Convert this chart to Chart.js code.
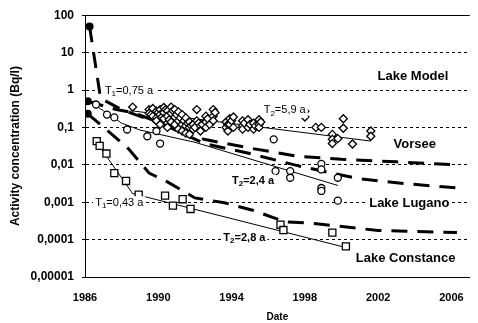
<!DOCTYPE html>
<html>
<head>
<meta charset="utf-8">
<script src="https://cdn.jsdelivr.net/npm/chart.js@4.4.0/dist/chart.umd.min.js"></script>
<style>
  html, body { margin: 0; padding: 0; background: #fff; }
</style>
</head>
<body>
<canvas id="chart" width="478" height="323"></canvas>
<script>
const xTicks = [1986, 1990, 1994, 1998, 2002, 2006];
const yTicks = [0.00001, 0.0001, 0.001, 0.01, 0.1, 1, 10, 100];
const yTickLabels = ['0,00001', '0,0001', '0,001', '0,01', '0,1', '1', '10', '100'];

// measured activity, Vorsee (diamonds)
const vorseeYears = [1988.6, 1989.5, 1989.5, 1989.6, 1989.7, 1989.7, 1989.9, 1989.9, 1989.9, 1990.0,
  1990.1, 1990.1, 1990.1, 1990.2, 1990.3, 1990.3, 1990.3, 1990.4, 1990.5, 1990.5, 1990.5, 1990.6,
  1990.7, 1990.7, 1990.7, 1990.8, 1990.9, 1990.9, 1990.9, 1991.0, 1991.1, 1991.1, 1991.1, 1991.2,
  1991.3, 1991.3, 1991.3, 1991.4, 1991.5, 1991.5, 1991.5, 1991.6, 1991.7, 1991.7, 1991.7, 1991.8,
  1991.9, 1991.9, 1992.0, 1992.1, 1992.1, 1992.2, 1992.3, 1992.3, 1992.4, 1992.6, 1992.6, 1992.6,
  1992.7, 1992.8, 1993.0, 1993.0, 1993.0, 1993.1,
  1993.7, 1993.7, 1993.8, 1993.8, 1993.9, 1993.9, 1994.0, 1994.1, 1994.1, 1994.6, 1994.6, 1994.6,
  1994.7, 1994.9, 1994.9, 1995.0, 1995.2, 1995.2, 1995.3, 1995.5, 1995.5, 1995.5, 1995.6,
  1998.0, 1998.0, 1998.6, 1998.9, 1999.5, 1999.5, 1999.5, 1999.8, 2000.1, 2000.1, 2000.6, 2001.6, 2001.6];
const vorseeValues = [0.35, 0.30, 0.24, 0.22, 0.20, 0.32, 0.27, 0.18, 0.15, 0.25,
  0.30, 0.22, 0.12, 0.19, 0.34, 0.25, 0.17, 0.30, 0.28, 0.20, 0.10, 0.16,
  0.35, 0.24, 0.14, 0.28, 0.30, 0.19, 0.12, 0.22, 0.26, 0.15, 0.09, 0.18,
  0.22, 0.12, 0.08, 0.15, 0.18, 0.11, 0.07, 0.13, 0.14, 0.10, 0.065, 0.11,
  0.12, 0.09, 0.10, 0.30, 0.15, 0.13, 0.11, 0.08, 0.12, 0.20, 0.14, 0.10,
  0.17, 0.12, 0.30, 0.20, 0.15, 0.25,
  0.14, 0.10, 0.08, 0.12, 0.17, 0.12, 0.15, 0.19, 0.10, 0.15, 0.11, 0.09,
  0.13, 0.16, 0.10, 0.12, 0.13, 0.09, 0.11, 0.16, 0.12, 0.10, 0.14,
  0.27, 0.19, 0.10, 0.10, 0.065, 0.048, 0.037, 0.05, 0.17, 0.095, 0.036, 0.08, 0.058];

// Lake Lugano (circles)
const luganoYears = [1986.6, 1987.2, 1987.6, 1988.3, 1989.4, 1989.9, 1990.1, 1996.3, 1996.4, 1997.2, 1997.2,
  1998.9, 1998.9, 1998.9, 1998.9, 1999.8, 1999.8];
const luganoValues = [0.41, 0.22, 0.185, 0.088, 0.058, 0.08, 0.037, 0.048, 0.0068, 0.0068, 0.0045,
  0.0106, 0.0075, 0.0024, 0.002, 0.0045, 0.0011];

// Lake Constance (squares)
const constanceYears = [1986.64, 1986.8, 1987.17, 1987.6, 1988.24, 1988.93, 1990.37, 1990.8, 1991.33, 1991.76,
  1996.67, 1996.83, 1999.5, 2000.24];
const constanceValues = [0.043, 0.032, 0.020, 0.006, 0.0037, 0.0016, 0.0015, 0.00081, 0.0012, 0.00066,
  0.00025, 0.00018, 0.000154, 0.000066];

// exponential fits (thin lines)
const vorseeFitYears = [1988.5, 2001.6];
const vorseeFitValues = [0.28, 0.043];
const luganoFitYears = [1986.2, 1987, 1988, 1989, 1992, 1999.8];
const luganoFitValues = [0.5, 0.28, 0.13, 0.085, 0.04, 0.0028];
const constanceFitYears = [1986.5, 1988.6, 2000.2];
const constanceFitValues = [0.05, 0.0017, 0.000062];

// lake model (thick dashed)
const vorseeModelYears = [1986.25, 1986.85, 1988, 1990, 1992.5, 1995, 1997.6, 2000, 2003, 2006.3];
const vorseeModelValues = [50, 0.6, 0.3, 0.13, 0.048, 0.028, 0.017, 0.014, 0.012, 0.01];
const luganoModelYears = [1986.15, 1987.7, 1988.6, 1990, 1992.5, 1995, 1997.6, 1999.2, 2001, 2003, 2006.3];
const luganoModelValues = [0.5, 0.3, 0.25, 0.14, 0.037, 0.02, 0.0095, 0.0064, 0.0042, 0.0033, 0.0024];
const constanceModelYears = [1986.15, 1987.9, 1988.4, 1989.5, 1990.5, 1992, 1993.6, 1995.2, 1996.9, 1998.5, 2002, 2006.3];
const constanceModelValues = [0.23, 0.043, 0.026, 0.006, 0.0035, 0.0013, 0.00097, 0.0006, 0.0003, 0.00027, 0.000175, 0.000155];

// text labels placed in data units
const notes = [
  { text: 'Lake Model', year: 2003.9, value: 2.26, size: 13, bold: true },
  { text: 'Vorsee', year: 2004.0, value: 0.0356, size: 13, bold: true },
  { text: 'Lake Lugano', year: 2003.7, value: 0.00091, size: 13, bold: true },
  { text: 'Lake Constance', year: 2003.5, value: 0.000032, size: 13, bold: true },
  { sub: '2', text: '=5,9 a', year: 1996.9, value: 0.284, size: 11 },
  { sub: '1', text: '=0,75 a', year: 1988.4, value: 0.96, size: 11 },
  { sub: '2', text: '=2,4 a', year: 1995.17, value: 0.0037, size: 11, bold: true },
  { sub: '1', text: '=0,43 a', year: 1987.87, value: 0.00097, size: 11 },
  { sub: '2', text: '=2,8 a', year: 1994.7, value: 0.000114, size: 11, bold: true }
];

const FONT = '"Liberation Sans", Arial, sans-serif';

const toPoints = (xs, ys) => xs.map((x, i) => ({ x: x, y: ys[i] }));

function markers(label, xs, ys, style, r) {
  return {
    label: label,
    data: toPoints(xs, ys),
    pointStyle: style,
    pointRadius: r,
    pointBorderWidth: 1.3,
    pointBorderColor: '#000',
    pointBackgroundColor: '#fff',
    showLine: false
  };
}

function fitLine(label, xs, ys) {
  return {
    label: label,
    data: toPoints(xs, ys),
    showLine: true,
    borderColor: '#000',
    borderWidth: 1,
    pointRadius: 0
  };
}

function modelLine(label, xs, ys) {
  return {
    label: label,
    data: toPoints(xs, ys),
    showLine: true,
    borderColor: '#000',
    borderWidth: 3,
    borderDash: [16, 10],
    pointRadius: c => c.dataIndex === 0 ? 2.5 : 0,
    pointBackgroundColor: '#000',
    pointBorderColor: '#000'
  };
}

function drawNote(ctx, n, cx, cy) {
  const weight = n.bold ? 'bold ' : '';
  const big = weight + n.size + 'px ' + FONT;
  const small = weight + Math.round(n.size * 0.75) + 'px ' + FONT;
  const parts = n.sub
    ? [{ t: 'T', f: big, dy: 0 }, { t: n.sub, f: small, dy: 3 }, { t: n.text, f: big, dy: 0 }]
    : [{ t: n.text, f: big, dy: 0 }];
  let w = 0;
  parts.forEach(p => { ctx.font = p.f; p.w = ctx.measureText(p.t).width; w += p.w; });
  let x0 = cx - w / 2;
  ctx.fillStyle = '#fff';
  ctx.fillRect(x0 - 2, cy - n.size / 2 - 1, w + 4, n.size + 3);
  ctx.fillStyle = '#000';
  ctx.textBaseline = 'middle';
  ctx.textAlign = 'left';
  parts.forEach(p => { ctx.font = p.f; ctx.fillText(p.t, x0, cy + p.dy); x0 += p.w; });
}

const notePlugin = {
  id: 'notes',
  afterDatasetsDraw(chart) {
    const { ctx, scales } = chart;
    ctx.save();
    notes.forEach(n => {
      drawNote(ctx, n, scales.x.getPixelForValue(n.year), scales.y.getPixelForValue(n.value));
    });
    ctx.restore();
  }
};

new Chart(document.getElementById('chart'), {
  type: 'scatter',
  data: {
    datasets: [
      markers('Vorsee', vorseeYears, vorseeValues, 'rectRot', 4),
      markers('Lake Lugano', luganoYears, luganoValues, 'circle', 3.5),
      markers('Lake Constance', constanceYears, constanceValues, 'rect', 5),
      fitLine('Vorsee fit', vorseeFitYears, vorseeFitValues),
      fitLine('Lugano fit', luganoFitYears, luganoFitValues),
      fitLine('Constance fit', constanceFitYears, constanceFitValues),
      modelLine('Vorsee model', vorseeModelYears, vorseeModelValues),
      modelLine('Lugano model', luganoModelYears, luganoModelValues),
      modelLine('Constance model', constanceModelYears, constanceModelValues)
    ]
  },
  options: {
    responsive: false,
    animation: false,
    devicePixelRatio: 1,
    layout: { padding: { top: 13, right: 0, bottom: 0, left: 0 } },
    plugins: {
      legend: { display: false },
      tooltip: { enabled: false }
    },
    scales: {
      x: {
        type: 'linear',
        min: 1986,
        max: 2007,
        afterBuildTicks: s => { s.ticks = xTicks.map(v => ({ value: v })); },
        afterFit: s => { s.height = 46; },
        grid: { display: false, drawTicks: false },
        border: { display: true, color: '#000', width: 1 },
        ticks: {
          autoSkip: false,
          maxRotation: 0,
          padding: 14,
          color: '#000',
          font: { family: FONT, size: 11, weight: 'bold' },
          callback: v => String(v)
        },
        title: {
          display: true,
          text: 'Date',
          color: '#000',
          padding: { top: -4, bottom: 0 },
          font: { family: FONT, size: 10, weight: 'bold' }
        }
      },
      y: {
        type: 'logarithmic',
        min: 0.00001,
        max: 100,
        afterBuildTicks: s => { s.ticks = yTicks.map(v => ({ value: v })); },
        afterFit: s => { s.width = 85; },
        grid: { color: '#000', lineWidth: 1, drawTicks: true, tickLength: 3 },
        border: {
          display: true,
          color: '#000',
          width: 1,
          dash: c => (c.tick && c.tick.value === 100) ? [] : [3, 3]
        },
        ticks: {
          autoSkip: false,
          padding: 8,
          color: '#000',
          font: { family: FONT, size: 12, weight: 'bold' },
          callback: v => yTickLabels[yTicks.indexOf(v)]
        },
        title: {
          display: true,
          text: 'Activity concentration (Bq/l)',
          color: '#000',
          padding: { top: 8, bottom: 4 },
          font: { family: FONT, size: 12, weight: 'bold' }
        }
      }
    }
  },
  plugins: [notePlugin]
});
</script>
</body>
</html>
